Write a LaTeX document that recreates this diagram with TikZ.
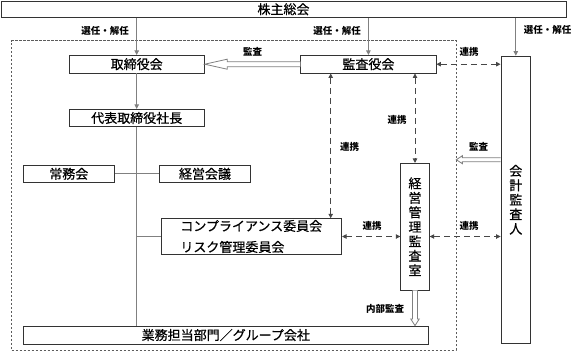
\documentclass[tikz,border=0pt]{standalone}
\usepackage{fontspec}
\setmainfont{Noto Sans CJK JP}
\newfontfamily\boxfont[FakeBold=0.6]{Noto Sans CJK JP}
\usetikzlibrary{arrows.meta,calc}
\definecolor{boxline}{HTML}{333333}
\definecolor{conn}{HTML}{808080}
\begin{document}
\begin{tikzpicture}[x=1pt,y=-1pt,
  box/.style={draw=boxline,line width=0.8pt,fill=white,inner sep=0pt,font=\boxfont\fontsize{13}{14.5}\selectfont},
  vbox/.style={box,align=center},
  lbl/.style={inner sep=0pt,font=\fontsize{9.5}{10}\selectfont\bfseries},
  solidarr/.style={draw=conn,line width=0.8pt,-{Triangle[width=4.5pt,length=4.5pt]},shorten >=0pt},
  plain/.style={draw=conn,line width=0.8pt},
  dasharr/.style={draw=boxline!90,line width=0.8pt,dash pattern=on 6pt off 4pt,{Triangle[width=4.5pt,length=4.5pt]}-{Triangle[width=4.5pt,length=4.5pt]}},
  hollow/.style={draw=conn,line width=0.8pt,fill=white,line join=miter},
  framebox/.style={draw=boxline!80,line width=0.7pt,dash pattern=on 2.5pt off 1.5pt,inner sep=0pt}
]
\useasboundingbox (0,0) rectangle (572,351);
% frame
\node[framebox,minimum width=444.3pt,minimum height=309.3pt] (frame) at (233.85,195.35) {};
% boxes
\node[box,minimum width=565pt,minimum height=16.5pt] (kabu) at (283.5,9.25) {株主総会};
\node[box,minimum width=135.3pt,minimum height=17.7pt] (tori) at (136.7,64.2) {取締役会};
\node[box,minimum width=135.3pt,minimum height=17.7pt] (kansa) at (368.4,64.2) {監査役会};
\node[box,minimum width=135.3pt,minimum height=17.4pt] (daihyo) at (136.7,118) {代表取締役社長};
\node[box,minimum width=91pt,minimum height=17.7pt] (jomu) at (68.8,173.8) {常務会};
\node[box,minimum width=91.4pt,minimum height=17.7pt] (keiei) at (205,173.8) {経営会議};
\node[box,align=left,minimum width=180.7pt,minimum height=35.7pt,font=\boxfont\fontsize{13}{21}\selectfont] (comp) at (251.3,236.5) {コンプライアンス委員会\\リスク管理委員会};
\node[vbox,minimum width=28.6pt,minimum height=126.7pt] (shitsu) at (415,226.7) {経\\営\\管\\理\\監\\査\\室};
\node[vbox,minimum width=29.7pt,minimum height=287.3pt] (kaikei) at (515.8,199.7) {会\\計\\監\\査\\人};
\node[box,minimum width=405pt,minimum height=18pt] (gyomu) at (225.8,335) {業務担当部門／グループ会社};
% election arrows
\draw[solidarr] (tori.north |- kabu.south) -- (tori.north);
\draw[solidarr] (kansa.north |- kabu.south) -- (kansa.north);
\draw[solidarr] (kaikei.north |- kabu.south) -- (kaikei.north);
\node[lbl] (l1) at (105,30.5) {選任・解任};
\node[lbl] (l2) at (337,30.5) {選任・解任};
\node[lbl] (l3) at (547.5,29.5) {選任・解任};
% hierarchy
\draw[solidarr] (tori.south) -- (daihyo.north);
\draw[plain] (daihyo.south) -- (daihyo.south |- gyomu.north);
\draw[plain] (jomu.east) -- (keiei.west);
\draw[plain] (daihyo.south |- comp.west) -- (comp.west);
% audit hollow arrow top
\draw[hollow] ($(kansa.west)+(0,-2.5)$) -- ($(tori.east)+(22.4,-2.5)$) -- ($(tori.east)+(22.4,-5)$) -- (tori.east) -- ($(tori.east)+(22.4,5)$) -- ($(tori.east)+(22.4,2.5)$) -- ($(kansa.west)+(0,2.5)$);
\node[lbl] (l4) at (252.5,51.7) {監査};
% cooperation dashed arrows
\draw[dasharr] (kansa.east) -- (kansa.east -| kaikei.west);
\node[lbl] (l5) at (469,51.7) {連携};
\coordinate (cx) at (330.7,0);
\draw[dasharr] (cx |- kansa.south) -- (cx |- comp.north);
\node[lbl] (l6) at (349.5,146.7) {連携};
\draw[dasharr] (shitsu.north |- kansa.south) -- (shitsu.north);
\node[lbl] (l7) at (397,120) {連携};
\draw[dasharr] (comp.east) -- (comp.east -| shitsu.west);
\node[lbl] (l8) at (372,225.5) {連携};
\draw[dasharr] (comp.east -| shitsu.east) -- (comp.east -| kaikei.west);
\node[lbl] (l9) at (469,226) {連携};
% audit from kaikei
\coordinate (k1) at (0,159.7);
\draw[hollow] ($(kaikei.west |- k1)+(0,-2)$) -- ($(frame.east |- k1)+(6,-2)$) -- ($(frame.east |- k1)+(6,-4)$) -- (frame.east |- k1) -- ($(frame.east |- k1)+(6,4)$) -- ($(frame.east |- k1)+(6,2)$) -- ($(kaikei.west |- k1)+(0,2)$);
\node[lbl] (l10) at (478.5,146.7) {監査};
% internal audit
\draw[hollow] ($(shitsu.south)+(-2.5,0)$) -- ($(shitsu.south |- gyomu.north)+(-2.5,-6.7)$) -- ($(shitsu.south |- gyomu.north)+(-4.3,-6.7)$) -- (shitsu.south |- gyomu.north) -- ($(shitsu.south |- gyomu.north)+(4.3,-6.7)$) -- ($(shitsu.south |- gyomu.north)+(2.5,-6.7)$) -- ($(shitsu.south)+(2.5,0)$);
\node[lbl] (l11) at (385,309.3) {内部監査};
\end{tikzpicture}
\end{document}
